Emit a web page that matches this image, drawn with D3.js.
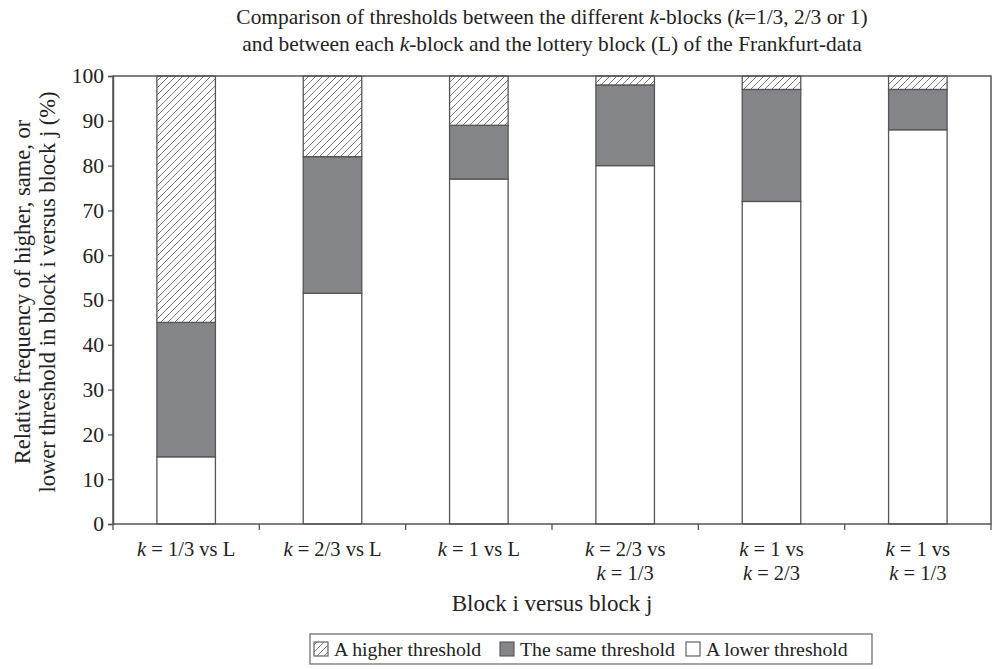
<!DOCTYPE html>
<html>
<head>
<meta charset="utf-8">
<script src="https://cdn.jsdelivr.net/npm/d3@7"></script>
<style>
body{margin:0;background:#fff;}
svg{display:block;font-family:"Liberation Serif","Times New Roman",serif;}
</style>
</head>
<body>
<svg id="chart" width="992" height="669"></svg>
<script>
const categories = [
  ["k = 1/3 vs L"],
  ["k = 2/3 vs L"],
  ["k = 1 vs L"],
  ["k = 2/3 vs", "k = 1/3"],
  ["k = 1 vs", "k = 2/3"],
  ["k = 1 vs", "k = 1/3"]
];
const lowerVals  = [15, 51.5, 77, 80, 72, 88];
const sameVals   = [30, 30.5, 12, 18, 25, 9];
const higherVals = [55, 18, 11, 2, 3, 3];
const yTicks = [0,10,20,30,40,50,60,70,80,90,100];
const seriesNames = ["A higher threshold", "The same threshold", "A lower threshold"];

const svg = d3.select("#chart");
const defs = svg.append("defs");
const pat = defs.append("pattern").attr("id","hatch").attr("patternUnits","userSpaceOnUse")
  .attr("width",7).attr("height",7);
pat.append("rect").attr("width",7).attr("height",7).attr("fill","#fff");
pat.append("path").attr("d","M-2,2 L2,-2 M0,7 L7,0 M5,9 L9,5")
  .attr("stroke","#7a7a7a").attr("stroke-width",1);

const M = {left:113, right:991, top:76, bottom:524};
const x = d3.scaleBand().domain(d3.range(categories.length)).range([M.left, M.right]).paddingInner(0).paddingOuter(0);
const y = d3.scaleLinear().domain([0,100]).range([M.bottom, M.top]);
const bw = x.bandwidth()*0.40;

const data = categories.map((c,i)=>({i, lower:lowerVals[i], same:sameVals[i], higher:higherVals[i]}));
const stack = d3.stack().keys(["lower","same","higher"])(data);
const fills = {lower:"#fff", same:"#848589", higher:"url(#hatch)"};

stack.forEach(layer=>{
  svg.append("g").selectAll("rect").data(layer).join("rect")
    .attr("x", d=>x(d.data.i)+x.bandwidth()/2-bw/2)
    .attr("width", bw)
    .attr("y", d=>y(d[1]))
    .attr("height", d=>y(d[0])-y(d[1]))
    .attr("fill", fills[layer.key])
    .attr("stroke","#555").attr("stroke-width",1.3);
});

// frame
svg.append("rect").attr("x",M.left).attr("y",M.top).attr("width",M.right-M.left).attr("height",M.bottom-M.top)
  .attr("fill","none").attr("stroke","#555").attr("stroke-width",1.5);

// y axis
const yAxis = d3.axisLeft(y).tickValues(yTicks).tickSize(5).tickPadding(4);
const gy = svg.append("g").attr("transform",`translate(${M.left},0)`).call(yAxis);
gy.attr("font-family",null).attr("font-size",null);
gy.select(".domain").attr("stroke","#555").attr("stroke-width",1.5);
gy.selectAll(".tick line").attr("stroke","#555").attr("stroke-width",1.3);
gy.selectAll(".tick text").attr("font-size",21.5).attr("fill","#222");

// x ticks at boundaries
const bounds = d3.range(categories.length+1).map(i=> i<categories.length ? x(i) : M.right);
svg.append("g").selectAll("line").data(bounds).join("line")
  .attr("x1",d=>d).attr("x2",d=>d).attr("y1",M.bottom).attr("y2",M.bottom+6)
  .attr("stroke","#555").attr("stroke-width",1.3);

// x labels
const xl = svg.append("g").attr("font-size",20.5).attr("fill","#222");
categories.forEach((lines,i)=>{
  lines.forEach((ln,j)=>{
    const t = xl.append("text").attr("x", x(i)+x.bandwidth()/2).attr("y", 556 + j*24).attr("text-anchor","middle");
    t.append("tspan").attr("font-style","italic").text("k");
    t.append("tspan").text(ln.slice(1));
  });
});

// axis titles
svg.append("text").attr("x",552).attr("y",611).attr("text-anchor","middle").attr("font-size",23).attr("fill","#222")
  .text("Block i versus block j");
const yt = svg.append("g").attr("transform","translate(0,292) rotate(-90)").attr("font-size",22.5).attr("fill","#222");
yt.append("text").attr("x",0).attr("y",30).attr("text-anchor","middle").text("Relative frequency of higher, same, or");
yt.append("text").attr("x",0).attr("y",55).attr("text-anchor","middle").text("lower threshold in block i versus block j (%)");

// title
const tt = svg.append("g").attr("font-size",21.4).attr("fill","#222");
const t1 = tt.append("text").attr("x",552).attr("y",24).attr("text-anchor","middle");
t1.append("tspan").text("Comparison of thresholds between the different ");
t1.append("tspan").attr("font-style","italic").text("k");
t1.append("tspan").text("-blocks (");
t1.append("tspan").attr("font-style","italic").text("k");
t1.append("tspan").text("=1/3, 2/3 or 1)");
const t2 = tt.append("text").attr("x",552).attr("y",51).attr("text-anchor","middle");
t2.append("tspan").text("and between each ");
t2.append("tspan").attr("font-style","italic").text("k");
t2.append("tspan").text("-block and the lottery block (L) of the Frankfurt-data");

// legend
svg.append("rect").attr("x",310).attr("y",634).attr("width",562).attr("height",30)
  .attr("fill","#fff").attr("stroke","#666").attr("stroke-width",1.2);
const legItems = [
  {name:seriesNames[0], fill:"url(#hatch)", x:314},
  {name:seriesNames[1], fill:"#848589", x:500},
  {name:seriesNames[2], fill:"#fff", x:686}
];
const lg = svg.append("g");
legItems.forEach(it=>{
  lg.append("rect").attr("x",it.x).attr("y",642).attr("width",14).attr("height",14)
    .attr("fill",it.fill).attr("stroke","#555").attr("stroke-width",1.1);
  lg.append("text").attr("x",it.x+20).attr("y",656).attr("font-size",19.8).attr("fill","#222").text(it.name);
});
</script>
</body>
</html>
